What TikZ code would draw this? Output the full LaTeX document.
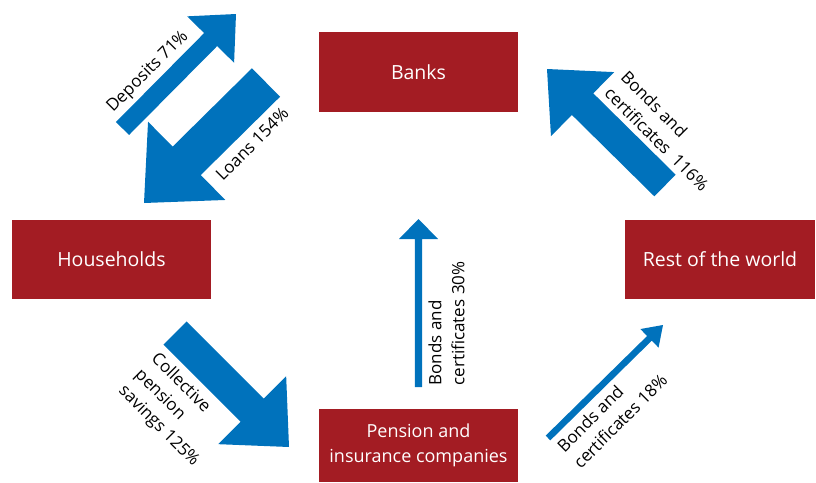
\documentclass[tikz,border=0pt]{standalone}
\usepackage{fontspec}
\setmainfont{Open Sans}
\usetikzlibrary{calc}
\definecolor{boxred}{RGB}{163,28,35}
\definecolor{flowblue}{RGB}{0,114,188}
% block arrow: name, tail, tip, shaft half width, head half width, head length
\newcommand\flowarrow[6]{%
  \coordinate (#1-b) at ($(#3)!#6!(#2)$);
  \fill[flowblue] ($(#2)!#4!90:(#3)$) -- ($(#1-b)!#4!90:(#3)$) -- ($(#1-b)!#5!90:(#3)$)
    -- (#3) -- ($(#1-b)!#5!-90:(#3)$) -- ($(#1-b)!#4!-90:(#3)$) -- ($(#2)!#4!-90:(#3)$) -- cycle;
}
\tikzset{
  sector/.style={fill=boxred, text=white, inner sep=0pt, align=center,
    font=\fontsize{19.5}{25}\selectfont},
  flowlabel/.style={inner sep=0pt, align=left, font=\fontsize{17}{23}\selectfont}
}
\begin{document}
\begin{tikzpicture}[x=1pt,y=-1pt]
\useasboundingbox (0,0) rectangle (816,482);

% sectors
\node[sector, minimum width=199pt, minimum height=80pt] (banks) at (418.5,72) {Banks};
\node[sector, minimum width=199pt, minimum height=79pt] (households) at (111.5,259.5) {Households};
\node[sector, minimum width=190pt, minimum height=79pt] (world) at (720,259.5) {Rest of the world};
\node[sector, minimum width=199pt, minimum height=73pt, font=\fontsize{18}{25}\selectfont]
  (pension) at (418.5,445.5) {Pension and\\insurance companies};

% flow arrows
\coordinate (dep-t) at (122.5,128.5);  \coordinate (dep-h) at (236,14);
\coordinate (loan-t) at (266,82.5);    \coordinate (loan-h) at (144,203);
\coordinate (bw-t) at (665,185.5);     \coordinate (bw-h) at (547,69);
\coordinate (cps-t) at (175,333);      \coordinate (cps-h) at (289,447);
\coordinate (pb-t) at (418.5,387);     \coordinate (pb-h) at (418.5,219);
\coordinate (pw-t) at (548,438);       \coordinate (pw-h) at (663,325);

\flowarrow{dep}{dep-t}{dep-h}{9.2pt}{33pt}{36pt}
\flowarrow{loan}{loan-t}{loan-h}{20pt}{55pt}{60pt}
\flowarrow{bw}{bw-t}{bw-h}{15.2pt}{45pt}{50pt}
\flowarrow{cps}{cps-t}{cps-h}{16.3pt}{48pt}{52pt}
\flowarrow{pb}{pb-t}{pb-h}{3.6pt}{19.5pt}{20pt}
\flowarrow{pw}{pw-t}{pw-h}{3.3pt}{13pt}{19pt}

% flow labels
\node[flowlabel, rotate=45] (depl) at (148,72) {Deposits 71\%};
\node[flowlabel, rotate=45] (loanl) at (252,144) {Loans 154\%};
\node[flowlabel, rotate=-45] (bwl) at (665,131) {Bonds and\\certificates\ \ 116\%};
\node[flowlabel, rotate=-45] (cpsl) at (175,410) {Collective\\pension\\savings 125\%};
\node[flowlabel, rotate=90] (pbl) at (446.5,323.5) {Bonds and\\certificates 30\%};
\node[flowlabel, rotate=45] (pwl) at (612,413) {Bonds and\\certificates 18\%};
\end{tikzpicture}
\end{document}
